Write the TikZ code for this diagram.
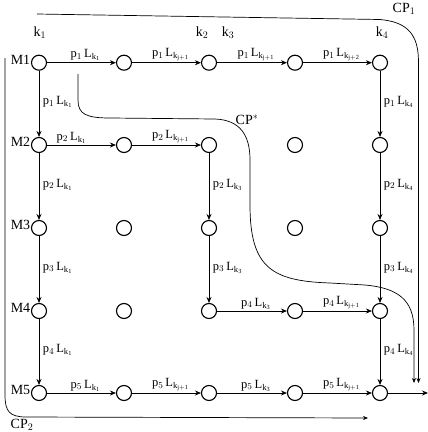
\documentclass[tikz,border=0pt]{standalone}
\usepackage{fontspec}
\setmainfont{Liberation Serif}
\usetikzlibrary{arrows.meta}
\newcommand{\plab}[2]{$\mathrm{p}_{#1}\,\mathrm{L}_{\mathrm{k}_{\mathrm{#2}}}$}
\begin{document}
\begin{tikzpicture}[x=1pt,y=-1pt,
  every node/.style={font=\fontsize{12.5}{14}\selectfont},
  st/.style={circle,draw,line width=1.1pt,minimum size=15pt,inner sep=0pt},
  ed/.style={-{Stealth[length=6pt,width=5pt]},line width=0.8pt},
  hl/.style={midway,above,inner sep=1.5pt,xshift=4pt},
  vl/.style={midway,right,inner sep=1.5pt,xshift=2pt,yshift=2pt},
  cp/.style={line width=0.7pt,-{Stealth[length=5pt,width=4pt]}},
  big/.style={font=\fontsize{14}{16}\selectfont}]
\useasboundingbox (0,0) rectangle (428,432);
% grid of nodes
\foreach \r/\y in {1/62.7,2/145,3/228,4/311,5/393}
  \foreach \c/\x in {1/39,2/124,3/209,4/295,5/380}
    \node[st] (n\r\c) at (\x,\y) {};
% row labels
\foreach \r in {1,...,5}
  \node[big,anchor=east,inner sep=0.5pt,yshift=3pt] (m\r) at (n\r1.west) {M\r};
% k labels
\node[big] (k1) at (40,33) {$\mathrm{k}_1$};
\node[big] (k2) at (202,33) {$\mathrm{k}_2$};
\node[big] (k3) at (228,33) {$\mathrm{k}_3$};
\node[big] (k4) at (382,33) {$\mathrm{k}_4$};
% row 1
\draw[ed] (n11) -- node[hl]{\plab{1}{1}} (n12);
\draw[ed] (n12) -- node[hl]{\plab{1}{j+1}} (n13);
\draw[ed] (n13) -- node[hl]{\plab{1}{j+1}} (n14);
\draw[ed] (n14) -- node[hl]{\plab{1}{j+2}} (n15);
% column 1
\draw[ed] (n11) -- node[vl]{\plab{1}{1}} (n21);
\draw[ed] (n21) -- node[vl]{\plab{2}{1}} (n31);
\draw[ed] (n31) -- node[vl]{\plab{3}{1}} (n41);
\draw[ed] (n41) -- node[vl]{\plab{4}{1}} (n51);
% column 5
\draw[ed] (n15) -- node[vl]{\plab{1}{4}} (n25);
\draw[ed] (n25) -- node[vl]{\plab{2}{4}} (n35);
\draw[ed] (n35) -- node[vl]{\plab{3}{4}} (n45);
\draw[ed] (n45) -- node[vl]{\plab{4}{4}} (n55);
% row 2 and column 3
\draw[ed] (n21) -- node[hl,xshift=-14pt]{\plab{2}{1}} (n22);
\draw[ed] (n22) -- node[hl]{\plab{2}{j+1}} (n23);
\draw[ed] (n23) -- node[vl]{\plab{2}{3}} (n33);
\draw[ed] (n33) -- node[vl]{\plab{3}{3}} (n43);
% row 4
\draw[ed] (n43) -- node[hl]{\plab{4}{3}} (n44);
\draw[ed] (n44) -- node[hl]{\plab{4}{j+1}} (n45);
% row 5
\draw[ed] (n51) -- node[hl]{\plab{5}{1}} (n52);
\draw[ed] (n52) -- node[hl]{\plab{5}{j+1}} (n53);
\draw[ed] (n53) -- node[hl]{\plab{5}{3}} (n54);
\draw[ed] (n54) -- node[hl]{\plab{5}{j+1}} (n55);
\coordinate (out) at (428,393);
\draw[ed] (n55) -- (out);
% critical paths
\coordinate (cp1s) at (37,14);
\coordinate (cp1e) at (418.5,383);
\draw[cp] (cp1s) -- (380,19.5) .. controls (408,22) and (418.5,35) .. (418.5,62) -- (cp1e);
\node[big] (cp1) at (404,9) {CP$_1$};
\coordinate (cp2s) at (5,58);
\coordinate (cp2e) at (368,418);
\draw[cp] (cp2s) -- (5,395) .. controls (5,412) and (10,416.5) .. (25,417) -- (cp2e);
\node[big] (cp2) at (22,425) {CP$_2$};
\coordinate (cpss) at (78,74);
\coordinate (cpse) at (414,383);
\draw[cp] (cpss) -- (78,100) .. controls (78,114) and (86,118) .. (110,118)
  -- (215,119) .. controls (240,120) and (250,135) .. (250,160)
  -- (250,205) .. controls (250,268) and (272,281) .. (330,283)
  -- (365,285) .. controls (398,288) and (414,300) .. (414,330) -- (cpse);
\node[big] (cps) at (247,120) {CP$^{*}$};
\end{tikzpicture}
\end{document}
